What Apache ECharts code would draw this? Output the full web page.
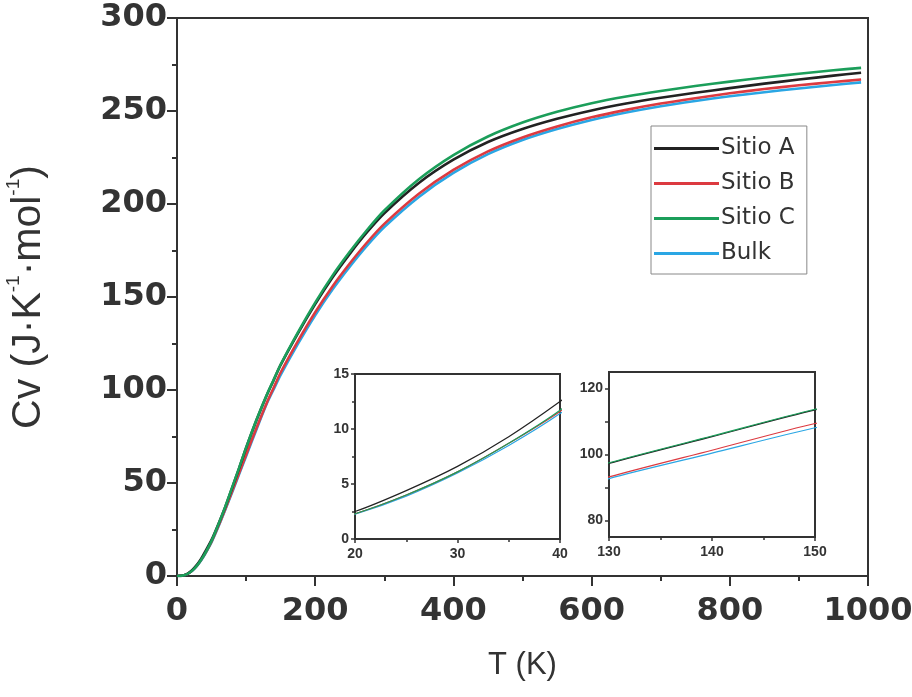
<!DOCTYPE html>
<html>
<head>
<meta charset="utf-8">
<script src="https://cdn.jsdelivr.net/npm/echarts@6/dist/echarts.min.js"></script>
<style>
  html, body { margin: 0; padding: 0; background: #fff; }
  #chart { width: 912px; height: 697px; }
</style>
</head>
<body>
<div id="chart"></div>
<script>
// Temperature grid (K) shared by all curves
const temps = [0, 5, 10, 15, 20, 25, 30, 35, 40, 50, 60, 70, 80, 90, 100, 115, 130, 140, 150,
  175, 200, 225, 250, 275, 300, 350, 400, 450, 500, 550, 600, 650, 700, 750, 800, 850, 900, 950, 990];

// Heat capacity Cv (J·K-1·mol-1) for each site
const sitioA = [0, 0.06, 0.45, 1.2, 2.5, 4.4, 6.6, 9.3, 12.5, 19.4, 28, 37.3, 47.6, 58, 68.8, 83.7, 97.3, 105.4, 113.5,
  130.5, 146.2, 160.5, 173.2, 184.8, 195, 211.3, 223.8, 233.3, 240.3, 245.8, 250.3, 254, 257.1, 259.8, 262.3, 264.7, 266.9, 269, 270.6];
const sitioB = [0, 0.05, 0.4, 1.1, 2.3, 4.0, 6.1, 8.7, 11.6, 18.5, 27, 36.2, 45.8, 55.5, 65.2, 79.6, 93.2, 101.3, 109.4,
  126.3, 141.8, 155.7, 168, 179.3, 189.3, 205.5, 218.3, 228.3, 235.8, 241.7, 246.6, 250.6, 254, 256.9, 259.5, 261.8, 263.8, 265.6, 266.9];
const sitioC = [0, 0.05, 0.4, 1.1, 2.3, 4.0, 6.1, 8.7, 11.7, 18.9, 27.8, 37.4, 47.8, 58.3, 69, 84, 97.5, 105.6, 113.7,
  131, 147, 161.5, 174.3, 186, 196.5, 213.3, 226.3, 236.3, 243.8, 249.6, 254.2, 257.8, 260.8, 263.4, 265.8, 268, 270, 271.9, 273.2];
const bulk = [0, 0.05, 0.38, 1.05, 2.25, 3.9, 6.0, 8.5, 11.4, 18.2, 26.6, 35.7, 45.2, 54.8, 64.4, 78.8, 92.7, 100.4, 108.1,
  124.8, 140.2, 154, 166.3, 177.6, 187.6, 203.8, 216.7, 226.8, 234.4, 240.3, 245.2, 249.2, 252.6, 255.4, 257.9, 260.1, 262.1, 264, 265.4];

// Axis ranges and ticks
const mainX = { min: 0, max: 1000, interval: 200 };
const mainY = { min: 0, max: 300, interval: 50 };
const inset1X = { min: 20, max: 40, interval: 10 };
const inset1Y = { min: 0, max: 15, interval: 5 };
const inset2X = { min: 130, max: 150, interval: 10 };
const inset2Y = { min: 75, max: 125, labels: [80, 100, 120], ticks: [80, 90, 100, 110, 120] };

const names = ['Sitio A', 'Sitio B', 'Sitio C', 'Bulk'];
const colors = { 'Sitio A': '#222222', 'Sitio B': '#dc3a40', 'Sitio C': '#1b9e5a', 'Bulk': '#2aa6e4' };
const values = { 'Sitio A': sitioA, 'Sitio B': sitioB, 'Sitio C': sitioC, 'Bulk': bulk };
const drawOrder = ['Bulk', 'Sitio B', 'Sitio A', 'Sitio C'];

const pairs = arr => temps.map((t, i) => [t, arr[i]]);

const axisDark = '#333333';
const font = '"Liberation Sans", Arial, sans-serif';
const wideFont = '"DejaVu Sans", sans-serif';

function axisCommon(labelFont, labelSize, labelMargin, tickLen, minorLen, lineW) {
  return {
    axisLine: { show: true, onZero: false, lineStyle: { color: axisDark, width: lineW } },
    axisTick: { show: true, inside: false, length: tickLen, lineStyle: { color: axisDark, width: lineW } },
    minorTick: { show: true, splitNumber: 2, length: minorLen, lineStyle: { color: axisDark, width: lineW } },
    splitLine: { show: false },
    minorSplitLine: { show: false },
    axisLabel: {
      fontFamily: labelFont, fontWeight: 'bold', fontSize: labelSize, color: axisDark, margin: labelMargin,
      showMinLabel: true, showMaxLabel: true, formatter: v => String(v)
    }
  };
}

const series = [];
[0, 1, 2].forEach(g => {
  drawOrder.forEach(n => {
    series.push({
      name: n,
      type: 'line',
      xAxisIndex: g,
      yAxisIndex: g,
      data: pairs(values[n]),
      showSymbol: false,
      smooth: 0.25,
      clip: true,
      lineStyle: { color: colors[n], width: g === 0 ? 2.6 : 1.2, join: 'round' },
      itemStyle: { color: colors[n] },
      z: g === 0 ? 3 : 8
    });
  });
});

const gridFrame = { show: true, borderColor: axisDark, borderWidth: 2, outerBoundsMode: 'none', containLabel: false };

const option = {
  animation: false,
  backgroundColor: '#ffffff',
  grid: [
    Object.assign({ left: 177, top: 18, width: 691, height: 558, backgroundColor: 'transparent' }, gridFrame),
    Object.assign({ left: 355, top: 374, width: 205, height: 165, backgroundColor: '#ffffff', z: 5 }, gridFrame),
    Object.assign({ left: 609, top: 372, width: 206, height: 165, backgroundColor: '#ffffff', z: 5 }, gridFrame)
  ],
  xAxis: [
    Object.assign(axisCommon(wideFont, 32, 20, 10, 5, 2), {
      type: 'value', gridIndex: 0, min: mainX.min, max: mainX.max, interval: mainX.interval,
      name: 'T (K)', nameLocation: 'middle', nameGap: 74,
      nameTextStyle: { fontFamily: font, fontSize: 31, color: axisDark }
    }),
    Object.assign(axisCommon(font, 14, 8, 4, 3, 1.5), {
      type: 'value', gridIndex: 1, min: inset1X.min, max: inset1X.max, interval: inset1X.interval, z: 8
    }),
    Object.assign(axisCommon(font, 14, 8, 4, 3, 1.5), {
      type: 'value', gridIndex: 2, min: inset2X.min, max: inset2X.max, interval: inset2X.interval, z: 8
    })
  ],
  yAxis: [
    Object.assign(axisCommon(wideFont, 32, 10, 10, 5, 2), {
      type: 'value', gridIndex: 0, min: mainY.min, max: mainY.max, interval: mainY.interval,
      name: '{b|Cv (J·K}{s|-1}{b|·mol}{s|-1}{b|)}', nameLocation: 'middle', nameGap: 128,
      nameTextStyle: {
        rich: {
          b: { fontFamily: font, fontSize: 41, color: axisDark, lineHeight: 45, verticalAlign: 'bottom' },
          s: { fontFamily: font, fontSize: 19, color: axisDark, lineHeight: 37, verticalAlign: 'top' }
        }
      }
    }),
    Object.assign(axisCommon(font, 14, 6, 4, 3, 1.5), {
      type: 'value', gridIndex: 1, min: inset1Y.min, max: inset1Y.max, interval: inset1Y.interval, z: 8
    }),
    Object.assign(axisCommon(font, 14, 6, 4, 3, 1.5), {
      type: 'value', gridIndex: 2, min: inset2Y.min, max: inset2Y.max, z: 8,
      axisLabel: {
        fontFamily: font, fontWeight: 'bold', fontSize: 14, color: axisDark, margin: 6,
        customValues: inset2Y.labels
      },
      axisTick: {
        show: true, inside: false, length: 4, lineStyle: { color: axisDark, width: 1.5 },
        customValues: inset2Y.ticks
      },
      minorTick: { show: false }
    })
  ],
  legend: {
    data: names,
    left: 651,
    top: 126,
    orient: 'vertical',
    padding: [11, 12, 9, 3],
    itemGap: 12,
    itemWidth: 65,
    itemHeight: 3,
    icon: 'rect',
    borderColor: '#888888',
    borderWidth: 1,
    backgroundColor: '#ffffff',
    textStyle: { fontFamily: wideFont, fontSize: 23, color: axisDark, padding: [0, 0, 0, -3] },
    z: 10
  },
  series: series
};

const chart = echarts.init(document.getElementById('chart'), null, { renderer: 'canvas' });
chart.setOption(option);
</script>
</body>
</html>
